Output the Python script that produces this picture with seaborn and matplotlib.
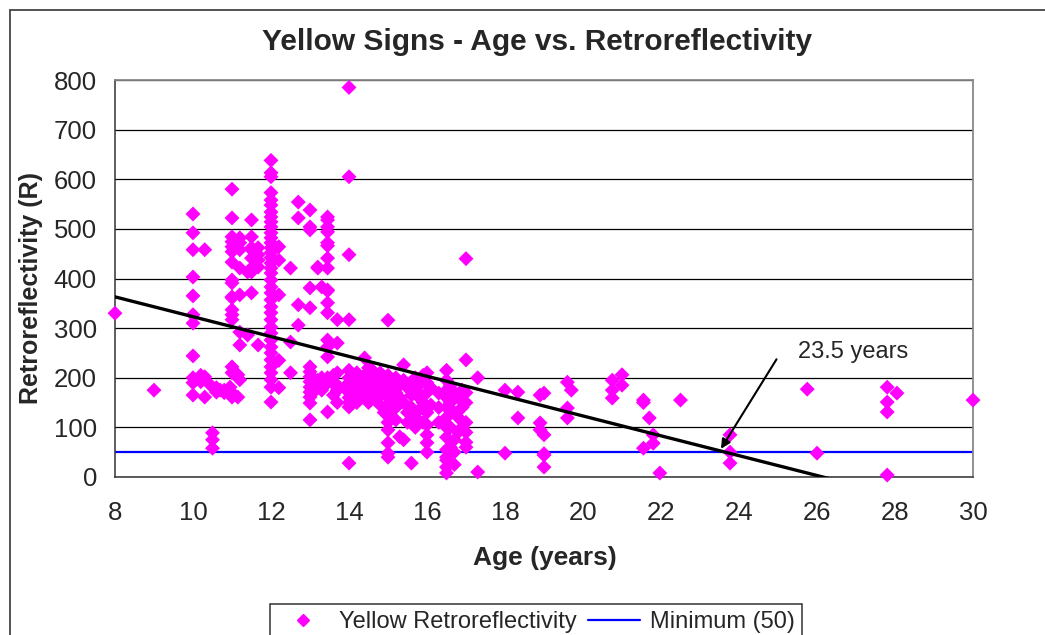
import pandas as pd
import numpy as np
import matplotlib
matplotlib.use('Agg')
import matplotlib.pyplot as plt
from matplotlib.lines import Line2D
from matplotlib.patches import Rectangle
import seaborn as sns

age = (
    [8.0, 9.0]
    + [10.0] * 11 + [10.2, 10.2, 10.3, 10.3, 10.3, 10.45, 10.5, 10.5, 10.5, 10.6, 10.6, 10.7, 10.8, 10.8, 10.95]
    + [11.0] * 18 + [11.15, 11.15] + [11.2] * 8 + [11.4, 11.4] + [11.5] * 8 + [11.67] * 5
    + [12.0] * 37 + [12.2] * 5 + [12.5] * 3 + [12.7] * 4
    + [13.0] * 14 + [13.1] * 3 + [13.2] * 5 + [13.3] * 4 + [13.45] * 18 + [13.6] * 3 + [13.7] * 6
    + [14.0] * 13 + [14.1] * 3 + [14.2] * 4 + [14.3] * 3 + [14.4] * 3 + [14.5] * 4
    + [14.6] * 3 + [14.7] * 3 + [14.8] * 4 + [14.9] * 3
    + [15.0] * 11 + [15.1] * 3 + [15.2] * 4 + [15.3] * 3 + [15.4] * 4 + [15.5] * 3
    + [15.6] * 4 + [15.7] * 4 + [15.8] * 3 + [15.9] * 3
    + [16.0] * 8 + [16.1] * 2 + [16.3] * 3 + [16.5] * 13 + [16.6] * 4 + [16.7] * 5
    + [16.8] * 3 + [16.9] * 3 + [17.0] * 8
    + [17.3] * 2 + [18.0] * 2 + [18.33] * 2 + [18.9] * 3 + [19.0] * 5
    + [19.6] * 3 + [19.7] + [20.75] * 3 + [21.0] * 2 + [21.55] * 3 + [21.7] + [21.8] * 2 + [21.97]
    + [22.5] + [23.77] * 3 + [25.75] + [26.0] + [27.8] * 4 + [28.05] + [30.0]
)
retro = (
    [330, 175]
    + [530, 492, 458, 403, 365, 327, 310, 244, 200, 190, 165]
    + [205, 192, 458, 202, 161, 185, 89, 75, 58, 171, 180, 175, 175, 170, 181]
    + [580, 522, 484, 474, 464, 454, 433, 397, 391, 363, 361, 337, 327, 317, 222, 210, 161, 170]
    + [206, 161] + [482, 472, 458, 421, 367, 292, 266, 196] + [413, 286]
    + [518, 484, 462, 441, 458, 413, 371, 421] + [462, 448, 437, 423, 266]
    + [638, 613, 605, 573, 558, 548, 534, 524, 514, 504, 492, 482, 472, 462, 452, 442, 431, 421, 411,
       397, 383, 371, 357, 343, 331, 317, 302, 290, 276, 262, 250, 236, 222, 210, 196, 181, 151]
    + [464, 437, 367, 235, 180] + [421, 272, 210] + [554, 522, 347, 306]
    + [538, 504, 381, 341, 222, 212, 202, 192, 181, 171, 161, 149, 115, 498]
    + [198, 186, 172]
    + [423, 421, 195, 190, 185] + [383, 200, 180, 175]
    + [524, 518, 504, 494, 472, 466, 441, 421, 377, 375, 351, 331, 276, 262, 242, 200, 190, 131]
    + [205, 188, 165]
    + [317, 270, 210, 185, 175, 150]
    + [785, 605, 448, 317, 215, 200, 190, 180, 170, 160, 150, 141, 28]
    + [205, 185, 165] + [210, 195, 180, 150] + [200, 175, 160] + [240, 205, 190]
    + [220, 185, 165, 150] + [215, 200, 170] + [195, 180, 160] + [210, 185, 165, 145] + [200, 175, 130]
    + [316, 205, 190, 160, 145, 129, 110, 95, 69, 48, 40]
    + [185, 150, 120] + [200, 170, 140, 115] + [185, 160, 81] + [226, 195, 150, 75] + [180, 130, 110]
    + [190, 165, 140, 28] + [200, 175, 120, 100] + [185, 160, 135] + [205, 150, 110]
    + [210, 190, 170, 130, 105, 85, 69, 50] + [180, 145] + [169, 140, 110]
    + [215, 195, 175, 160, 140, 120, 100, 80, 55, 40, 34, 20, 8]
    + [185, 150, 100, 60] + [170, 130, 75, 50, 25] + [160, 120, 90] + [175, 140, 100]
    + [440, 236, 170, 150, 110, 90, 70, 60]
    + [200, 10] + [175, 48] + [171, 119]
    + [165, 109, 95] + [169, 85, 47, 44, 20]
    + [191, 139, 119] + [175] + [195, 175, 159] + [206, 185] + [155, 150, 58] + [119] + [85, 68] + [8]
    + [155] + [85, 50, 28] + [177] + [48] + [181, 151, 131, 4] + [169] + [155]
)

trend_intercept = 363.0   # value at age 8
trend_slope = -20.0       # per year
minimum_level = 50
crossing_age = 23.5

df = pd.DataFrame({'age': age, 'retro': retro})

sns.set_style('white')
plt.rcParams['font.family'] = ['Liberation Sans', 'DejaVu Sans']

fig = plt.figure(figsize=(10.45, 6.35), dpi=100)
ax = fig.add_axes([115 / 1045, 1 - 477 / 635, (973 - 115) / 1045, (477 - 80) / 635])

# Chart area border (cut off on the right and bottom like the original)
fig.patches.append(Rectangle((10 / 1045, -0.1), 1.2, 1.1 - 10 / 635, transform=fig.transFigure,
                             fill=False, edgecolor='#444444', lw=1.3))

ax.yaxis.grid(True, color='black', lw=0.9)
ax.set_axisbelow(True)

# Minimum line
ax.axhline(minimum_level, color='#0000FF', lw=1.6, zorder=2)

sns.scatterplot(x='age', y='retro', data=df, marker='D', s=58, color='#FF00FF',
                edgecolor='none', linewidth=0, ax=ax, zorder=3, legend=False, clip_on=False)

# Trend line
tx = np.array([8, 30])
ax.plot(tx, trend_intercept + trend_slope * (tx - 8), color='black', lw=2.4, zorder=4)

ax.set_xlim(8, 30)
ax.set_ylim(0, 800)
ax.set_xticks(range(8, 31, 2))
ax.set_yticks(range(0, 801, 100))
ax.set_xlabel('')
ax.set_ylabel('')
ax.tick_params(axis='both', direction='out', length=5, width=1, color='#333333', labelsize=18.5)
ax.tick_params(axis='x', pad=12)
ax.tick_params(axis='y', pad=8)
for side in ['top', 'right']:
    ax.spines[side].set_color('#888888')
    ax.spines[side].set_linewidth(1.3)
for side in ['left', 'bottom']:
    ax.spines[side].set_color('#333333')
    ax.spines[side].set_linewidth(1.1)

# Annotation for the crossing point
ax.annotate('', xy=(crossing_age, 52), xytext=(25.0, 242),
            arrowprops=dict(arrowstyle='-|>', color='black', lw=1.5, mutation_scale=14))
ax.text(25.5, 252, '23.5 years', fontsize=17, va='center', ha='left')

fig.text(537 / 1045, 1 - 42 / 635, 'Yellow Signs - Age vs. Retroreflectivity',
         ha='center', va='center', fontsize=21.5, weight='bold')
fig.text(31 / 1045, 1 - 288 / 635, 'Retroreflectivity (R)', rotation=90,
         ha='center', va='center', fontsize=18, weight='bold')
fig.text(545 / 1045, 1 - 558 / 635, 'Age (years)', ha='center', va='center',
         fontsize=19, weight='bold')

handles = [Line2D([], [], marker='D', markersize=6, color='#FF00FF', linestyle='none'),
           Line2D([], [], color='#0000FF', lw=1.6)]
leg = fig.legend(handles, ['Yellow Retroreflectivity', 'Minimum (50)'], ncol=2,
                 loc='upper center', bbox_to_anchor=(536 / 1045, 1 - 592 / 635),
                 fontsize=17, frameon=True, fancybox=False, framealpha=1,
                 edgecolor='#333333', handlelength=2.2, handletextpad=0.4,
                 columnspacing=0.5, borderpad=0.3)
leg.get_frame().set_linewidth(1.1)

plt.savefig('out.png', dpi=100)
plt.close()
